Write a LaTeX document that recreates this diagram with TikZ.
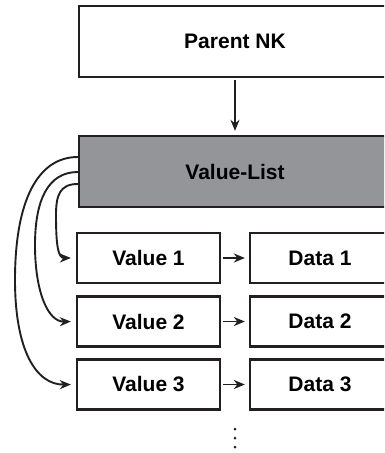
\documentclass[tikz,border=0pt]{standalone}
\usepackage{fontspec}
\setmainfont{Liberation Sans}
\usetikzlibrary{arrows.meta}
\definecolor{dk}{HTML}{231F20}
\definecolor{gr}{HTML}{939598}
\tikzset{
  box/.style={draw=dk, line width=2.3pt, fill=white, inner sep=0pt,
    font=\fontsize{21}{24}\selectfont\bfseries, text=black},
  arr/.style={draw=dk, line width=1.9pt, -{Stealth[length=11pt,width=9pt,inset=3.5pt]}},
}
\begin{document}
\begin{tikzpicture}[x=1pt,y=-1pt]
\useasboundingbox (0,0) rectangle (384,453);
\clip (0,0) rectangle (384,453);
\node[box, minimum width=312pt, minimum height=71pt] (pnk) at (235,41.5) {Parent NK};
\node[box, fill=gr, minimum width=312pt, minimum height=71pt] (vl) at (235,171.5) {Value-List};
\node[box, minimum width=143pt, minimum height=50pt] (v1) at (148.5,258) {Value 1};
\node[box, minimum width=143pt, minimum height=50pt] (v2) at (148.5,321.5) {Value 2};
\node[box, minimum width=143pt, minimum height=50pt] (v3) at (148.5,384.5) {Value 3};
\node[box, minimum width=140pt, minimum height=50pt] (d1) at (320,258) {Data 1};
\node[box, minimum width=140pt, minimum height=50pt] (d2) at (320,321.5) {Data 2};
\node[box, minimum width=140pt, minimum height=50pt] (d3) at (320,384.5) {Data 3};
\draw[arr] ([yshift=-2pt]pnk.south) -- ([yshift=4pt]vl.north);
\draw[arr] ([xshift=2pt]v1.east) -- ([xshift=-4pt]d1.west);
\draw[arr] ([xshift=2pt]v2.east) -- ([xshift=-4pt]d2.west);
\draw[arr] ([xshift=2pt]v3.east) -- ([xshift=-4pt]d3.west);
\coordinate (s1) at ([yshift=-12.5pt]vl.west);
\coordinate (s2) at ([yshift=-0.5pt]vl.west);
\coordinate (s3) at ([yshift=14.5pt]vl.west);
\draw[arr] (s1) .. controls (60,184) and (56,195) .. (56,215) .. controls (56,245) and (58,258) .. ([xshift=-5pt]v1.west);
\draw[arr] (s2) .. controls (48,172) and (35,200) .. (35,245) .. controls (35,292) and (48,322) .. ([xshift=-5pt]v2.west);
\draw[arr] (s3) .. controls (38,157) and (15,200) .. (15,280) .. controls (15,350) and (36,385) .. ([xshift=-5pt]v3.west);
\foreach \yy in {429,438,447} \fill[dk] (235,\yy) circle (1.5pt);
\end{tikzpicture}
\end{document}
